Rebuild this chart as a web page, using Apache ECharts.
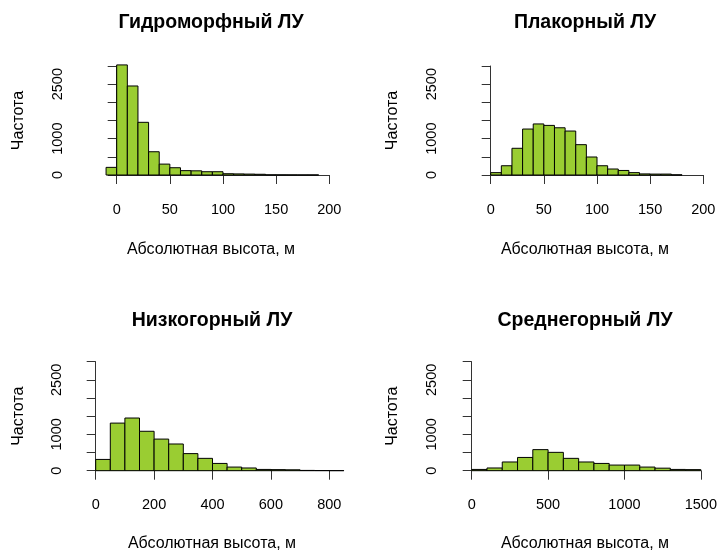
<!DOCTYPE html>
<html>
<head>
<meta charset="utf-8">
<title>Гистограммы абсолютной высоты</title>
<script src="https://cdn.jsdelivr.net/npm/echarts@6/dist/echarts.min.js"></script>
<style>
  html, body { margin: 0; padding: 0; background: #fff; }
  #chart { width: 720px; height: 552px; }
</style>
</head>
<body>
<div id="chart"></div>
<script>
// названия панелей
var panelTitles = ['Гидроморфный ЛУ', 'Плакорный ЛУ', 'Низкогорный ЛУ', 'Среднегорный ЛУ'];
var xAxisTitle = 'Абсолютная высота, м';
var yAxisTitle = 'Частота';

// начало первого интервала и ширина интервала
var hydroStart = -10, hydroStep = 10;
var hydroCounts = [210, 3030, 2450, 1450, 640, 300, 200, 120, 115, 90, 90, 35, 30, 25, 20, 5, 4, 3, 2, 2];

var plakStart = 0, plakStep = 10;
var plakCounts = [65, 255, 735, 1265, 1405, 1365, 1300, 1210, 835, 495, 255, 165, 125, 65, 30, 25, 25, 5];

var lowStart = 0, lowStep = 50;
var lowCounts = [310, 1310, 1450, 1085, 870, 735, 470, 340, 200, 100, 75, 35, 30, 25, 8, 5, 3];

var midStart = 0, midStep = 100;
var midCounts = [35, 75, 240, 365, 580, 505, 340, 240, 200, 155, 155, 100, 70, 35, 30];

// подписи осей
var xTicks = [[0, 200, 50], [0, 200, 50], [0, 800, 200], [0, 1500, 500]]; // min, max, шаг
var yTicks = [0, 3000, 500];
var yShownLabels = [0, 1000, 2500]; // R прячет остальные

var font = 'Liberation Sans, Arial, sans-serif';
var fillColor = '#9acd32'; // yellowgreen

function toBins(start, step, counts) {
    return counts.map(function (c, i) {
        return [start + i * step, start + (i + 1) * step, c];
    });
}
var binData = [
    toBins(hydroStart, hydroStep, hydroCounts),
    toBins(plakStart, plakStep, plakCounts),
    toBins(lowStart, lowStep, lowCounts),
    toBins(midStart, midStep, midCounts)
];

function renderBin(params, api) {
    var p0 = api.coord([api.value(0), api.value(2)]);
    var p1 = api.coord([api.value(1), 0]);
    return {
        type: 'rect',
        shape: { x: p0[0], y: p0[1], width: p1[0] - p0[0], height: p1[1] - p0[1] },
        style: { fill: fillColor, stroke: '#000', lineWidth: 1 }
    };
}

// расположение панелей (px)
var grids = [
    { left: 116.7, top: 66, width: 212.6, height: 109 },
    { left: 490.7, top: 66, width: 212.6, height: 109 },
    { left: 95.7, top: 361.7, width: 233.6, height: 109 },
    { left: 471.7, top: 361.7, width: 231.6, height: 109 }
];
var yOffsets = [30.7, 30.7, 10, 11.7];
var centers = [211, 585, 212, 585];
var titleTops = [13, 13, 311, 311];
var labelTops = [242, 242, 536, 536];

var myChart = echarts.init(document.getElementById('chart'));
var option = {
    animation: false,
    backgroundColor: '#fff',
    title: [],
    grid: grids,
    xAxis: [],
    yAxis: [],
    series: []
};

for (var i = 0; i < 4; i++) {
    option.title.push({
        text: panelTitles[i],
        left: centers[i], top: titleTops[i], textAlign: 'center', padding: 0,
        textStyle: { fontFamily: font, fontSize: 19.5, fontWeight: 'bold', color: '#000' }
    });
    option.title.push({
        text: xAxisTitle,
        left: centers[i], top: labelTops[i], textAlign: 'center', padding: 0,
        textStyle: { fontFamily: font, fontSize: 16, fontWeight: 'normal', color: '#000' }
    });
    option.xAxis.push({
        type: 'value', gridIndex: i,
        min: xTicks[i][0], max: xTicks[i][1], interval: xTicks[i][2],
        offset: 4,
        axisLine: { show: true, lineStyle: { color: '#333', width: 1 } },
        axisTick: { show: true, length: 9, inside: false, lineStyle: { color: '#333' } },
        splitLine: { show: false },
        axisLabel: {
            fontFamily: font, fontSize: 14.5, color: '#000', margin: 23,
            formatter: function (v) { return String(v); }
        }
    });
    option.yAxis.push({
        type: 'value', gridIndex: i,
        min: yTicks[0], max: yTicks[1], interval: yTicks[2],
        offset: yOffsets[i],
        name: yAxisTitle, nameLocation: 'middle', nameGap: 59,
        nameTextStyle: { fontFamily: font, fontSize: 16, color: '#000' },
        axisLine: { show: true, lineStyle: { color: '#333', width: 1 } },
        axisTick: { show: true, length: 9, inside: false, lineStyle: { color: '#333' } },
        splitLine: { show: false },
        axisLabel: {
            rotate: 90, fontFamily: font, fontSize: 14.5, color: '#000', margin: 21,
            formatter: function (v) { return yShownLabels.indexOf(v) >= 0 ? String(v) : ''; }
        }
    });
    option.series.push({
        type: 'custom', xAxisIndex: i, yAxisIndex: i,
        clip: false,
        renderItem: renderBin,
        encode: { x: [0, 1], y: 2 },
        data: binData[i]
    });
}

myChart.setOption(option);
</script>
</body>
</html>
